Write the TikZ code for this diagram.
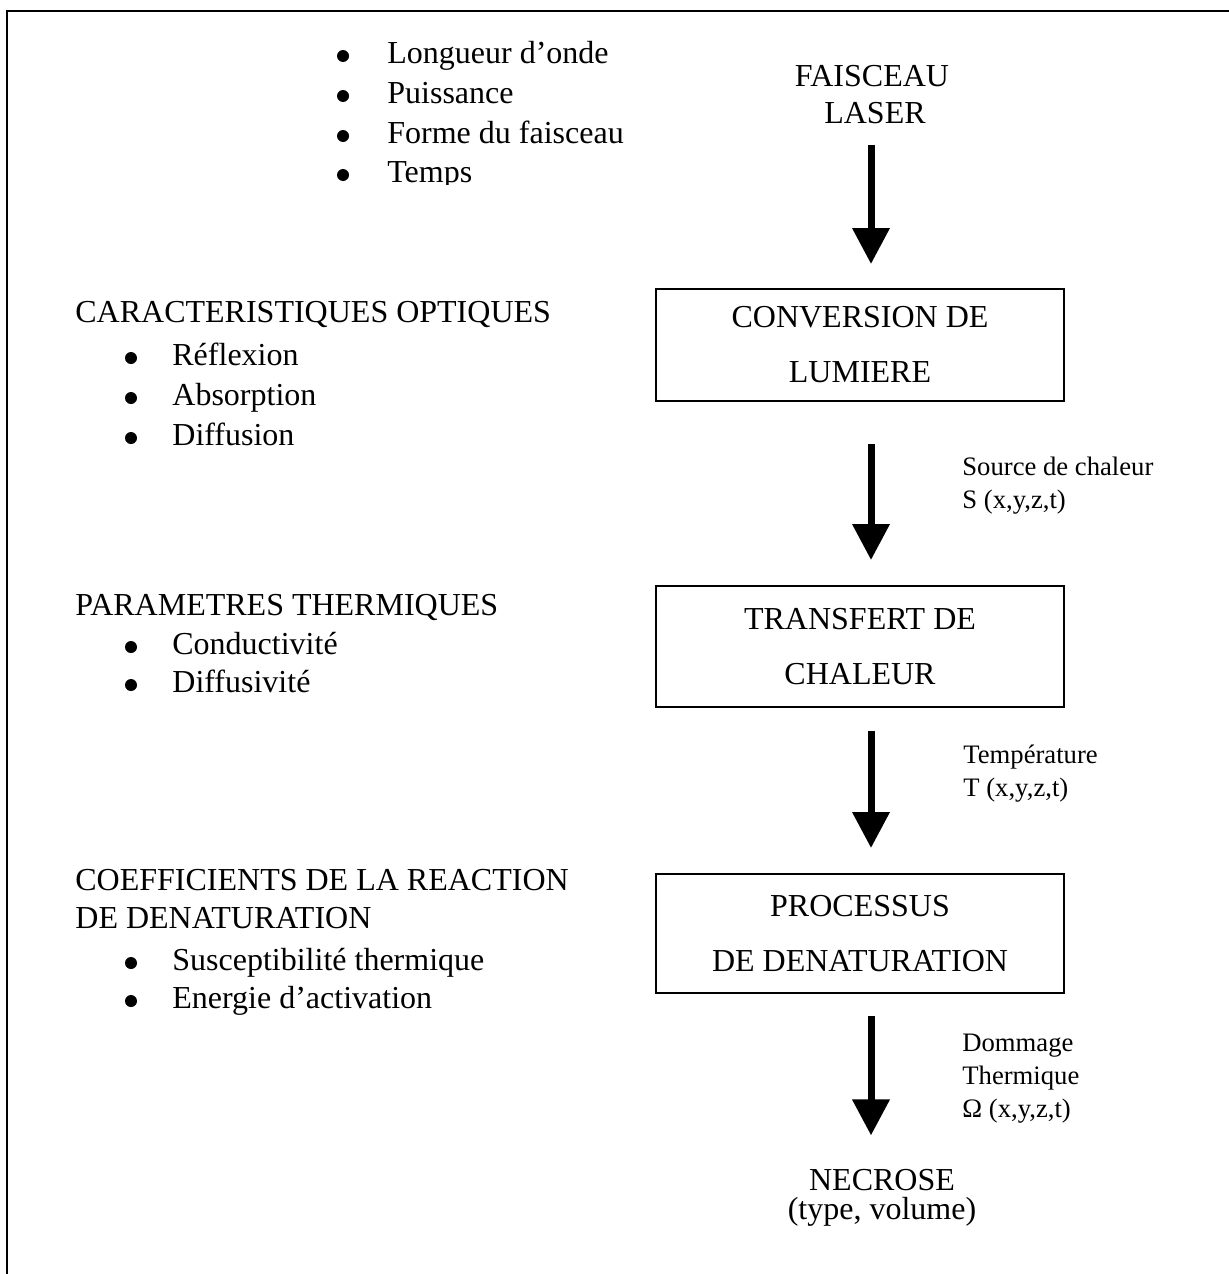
\documentclass[tikz,border=0pt]{standalone}
\usepackage{fontspec}
\setmainfont{Liberation Serif}
\usetikzlibrary{arrows.meta}

\begin{document}
\begin{tikzpicture}[x=0.5pt,y=-0.5pt,
  texte/.style={inner sep=0pt,font=\fontsize{16}{19}\selectfont},
  puce/.style={circle,fill,inner sep=0pt,minimum size=6pt},
  petit/.style={inner sep=0pt,anchor=north west,align=left,font=\fontsize{13.33}{16.3}\selectfont},
  boite/.style={draw,line width=1pt,minimum width=204pt,inner sep=0pt,align=center,font=\fontsize{16}{27.5}\selectfont},
  fleche/.style={line width=3.5pt,-{Triangle[width=18pt,length=18pt]}}]

\useasboundingbox (0,0) rectangle (1229,1274);

\draw[line width=1pt] (7,1274) -- (7,11) -- (1229,11);

\begin{scope}
\clip (0,0) rectangle (1229,184);
\node[puce] (p1) at (343,56) {};
\node[texte,anchor=base west] (onde) at (387,63) {Longueur d’onde};
\node[puce] (p2) at (343,96) {};
\node[texte,anchor=base west] (puissance) at (387,103) {Puissance};
\node[puce] (p3) at (343,136) {};
\node[texte,anchor=base west] (forme) at (387,143) {Forme du faisceau};
\node[puce] (p4) at (343,175) {};
\node[texte,anchor=base west] (temps) at (387,182) {Temps};
\end{scope}

\node[texte,anchor=base] (faisceau) at (872,86) {FAISCEAU};
\node[texte,anchor=base] (laser) at (875,123) {LASER};

\node[boite,minimum height=56pt] (conversion) at (860,345) {CONVERSION DE\\LUMIERE};
\node[boite,minimum height=60.5pt] (transfert) at (860,646.5) {TRANSFERT DE\\CHALEUR};
\node[boite,minimum height=59.5pt] (processus) at (860,933.5) {PROCESSUS\\DE DENATURATION};

\node[texte,anchor=base] (necrose) at (882,1190) {NECROSE};
\node[texte,anchor=base] (type) at (882,1219) {(type, volume)};

\coordinate (axe) at (871,0);
\draw[fleche,shorten <=10.5pt,shorten >=12pt] (laser.south -| axe) -- (conversion.north -| axe);
\draw[fleche,shorten <=21pt,shorten >=12.5pt] (conversion.south -| axe) -- (transfert.north -| axe);
\draw[fleche,shorten <=11.5pt,shorten >=12.5pt] (transfert.south -| axe) -- (processus.north -| axe);
\draw[fleche,shorten <=11pt,shorten >=16.5pt] (processus.south -| axe) -- (necrose.north -| axe);

\node[petit] (source) at (962,457) {Source de chaleur\\S (x,y,z,t)};
\node[petit] (temperature) at (963,745) {Température\\T (x,y,z,t)};
\node[petit] (dommage) at (962,1034) {Dommage\\Thermique\\Ω (x,y,z,t)};

\node[texte,anchor=base west] (optiques) at (75,322) {CARACTERISTIQUES OPTIQUES};
\node[puce] (o1) at (131,358) {};
\node[texte,anchor=base west] (reflexion) at (172,365) {Réflexion};
\node[puce] (o2) at (131,398) {};
\node[texte,anchor=base west] (absorption) at (172,405) {Absorption};
\node[puce] (o3) at (131,438) {};
\node[texte,anchor=base west] (diffusion) at (172,445) {Diffusion};

\node[texte,anchor=base west] (thermiques) at (75,615) {PARAMETRES THERMIQUES};
\node[puce] (t1) at (131,647) {};
\node[texte,anchor=base west] (conductivite) at (172,654) {Conductivité};
\node[puce] (t2) at (131,685) {};
\node[texte,anchor=base west] (diffusivite) at (172,692) {Diffusivité};

\node[texte,anchor=north west,align=left] (coefficients) at (75,869) {COEFFICIENTS DE LA REACTION\\DE DENATURATION};
\begin{scope}
\clip (0,0) rectangle (1229,1022);
\node[puce] (c1) at (131,963) {};
\node[texte,anchor=base west] (susceptibilite) at (172,970) {Susceptibilité thermique};
\node[puce] (c2) at (131,1001) {};
\node[texte,anchor=base west] (activation) at (172,1008) {Energie d’activation};
\end{scope}

\end{tikzpicture}
\end{document}
